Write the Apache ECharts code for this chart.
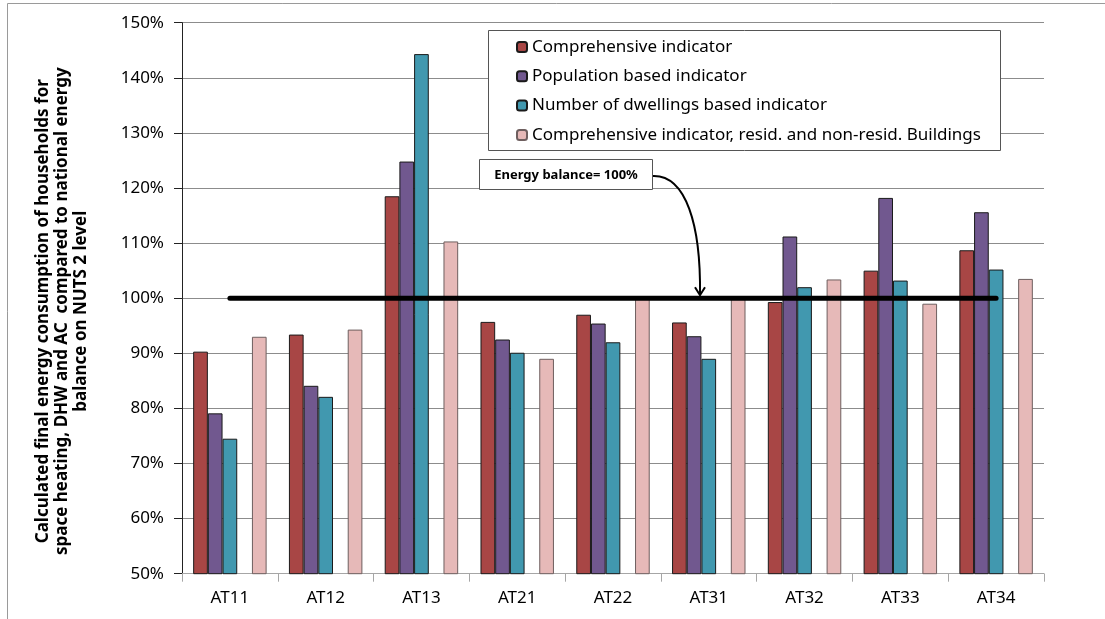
<!DOCTYPE html>
<html>
<head>
<meta charset="utf-8">
<script src="https://cdn.jsdelivr.net/npm/echarts@6/dist/echarts.min.js"></script>
<style>
html,body{margin:0;padding:0;background:#fff;}
#chart{width:1105px;height:619px;}
</style>
</head>
<body>
<div id="chart"></div>
<script>
const categories = ['AT11','AT12','AT13','AT21','AT22','AT31','AT32','AT33','AT34'];
const comprehensive = [90.3, 93.4, 118.5, 95.7, 97.0, 95.6, 99.3, 105.0, 108.7];
const population = [79.1, 84.1, 124.8, 92.5, 95.4, 93.1, 111.2, 118.2, 115.6];
const dwellings = [74.5, 82.1, 144.3, 90.1, 92.0, 89.0, 102.0, 103.2, 105.2];
const residNonResid = [93.0, 94.3, 110.3, 89.0, 100.2, 100.1, 103.4, 99.0, 103.5];
const energyBalance = [100, 100, 100, 100, 100, 100, 100, 100, 100];
const emptySlot = [null, null, null, null, null, null, null, null, null];
const seriesNames = ['Comprehensive indicator','Population based indicator','Number of dwellings based indicator','Comprehensive indicator, resid. and non-resid. Buildings'];
const yMin = 50, yMax = 150, yStep = 10;
const annotationText = 'Energy balance= 100%';
const yTitle = 'Calculated final energy consumption of households for\nspace heating, DHW and AC  compared to national energy\nbalance on NUTS 2 level';

const FONT = 'Noto Sans';
const chart = echarts.init(document.getElementById('chart'), null, {renderer:'canvas'});

function barSeries(name, data, color, border) {
  return {
    name: name, type: 'bar', data: data,
    barGap: '0%', barCategoryGap: '23.3%',
    itemStyle: {color: color, borderColor: border, borderWidth: 1},
    emphasis: {disabled: true}
  };
}

const option = {
  animation: false,
  backgroundColor: '#fff',
  textStyle: {fontFamily: FONT},
  grid: {left: 182, right: 61, top: 22.7, bottom: 45.3, containLabel: false},
  legend: {
    orient: 'vertical', left: 516, top: 37, padding: 0,
    itemWidth: 10, itemHeight: 10, itemGap: 9.3,
    data: seriesNames,
    textStyle: {fontFamily: FONT, fontSize: 17, color: '#000', lineHeight: 20},
    selectedMode: false, z: 6
  },
  xAxis: {
    type: 'category', data: categories,
    axisLine: {lineStyle: {color: '#a6a6a6', width: 1}},
    axisTick: {show: true, length: 8, lineStyle: {color: '#a6a6a6'}},
    axisLabel: {fontFamily: FONT, fontSize: 17, color: '#000', margin: 16},
    splitLine: {show: false}
  },
  yAxis: {
    type: 'value', min: yMin, max: yMax, interval: yStep,
    axisLine: {show: true, lineStyle: {color: '#222', width: 1}},
    axisTick: {show: true, length: 8, lineStyle: {color: '#222'}},
    axisLabel: {fontFamily: FONT, fontSize: 17, color: '#000', margin: 18, formatter: '{value}%'},
    splitLine: {show: true, lineStyle: {color: '#8c8c8c', width: 1}},
    name: yTitle, nameLocation: 'middle', nameGap: 91, nameRotate: 90,
    nameTextStyle: {fontFamily: FONT, fontSize: 17, fontWeight: 'bold', color: '#000', lineHeight: 19, align: 'center', padding: [0, 26, 0, 0]}
  },
  series: [
    barSeries(seriesNames[0], comprehensive, '#A84645', '#1a1a1a'),
    barSeries(seriesNames[1], population, '#71588F', '#1a1a1a'),
    barSeries(seriesNames[2], dwellings, '#4198AF', '#1a1a1a'),
    barSeries('gap', emptySlot, 'transparent', 'transparent'),
    barSeries(seriesNames[3], residNonResid, '#E6B9B8', '#6e5f5f'),
    {
      name: 'Energy balance', type: 'line', data: energyBalance,
      symbol: 'none', z: 5,
      lineStyle: {color: '#000', width: 5, cap: 'round'},
      emphasis: {disabled: true}
    }
  ]
};
chart.setOption(option);

const yTip = chart.convertToPixel({yAxisIndex: 0}, 100) - 3;
chart.setOption({
  graphic: [
    {type: 'rect', z: 0, silent: true, shape: {x: 7.5, y: 3.5, width: 1300, height: 800},
      style: {fill: 'none', stroke: '#9a9a9a', lineWidth: 1}},
    {type: 'rect', z: 3, silent: true, shape: {x: 488.5, y: 30.5, width: 512, height: 120},
      style: {fill: '#fff', stroke: '#555', lineWidth: 1}},
    {type: 'rect', z: 3, silent: true, shape: {x: 479.5, y: 159.5, width: 173, height: 30},
      style: {fill: '#fff', stroke: '#555', lineWidth: 1}},
    {type: 'text', z: 4, silent: true, x: 566, y: 175,
      style: {text: annotationText, fontFamily: FONT, fontSize: 13, fontWeight: 'bold', fill: '#000', align: 'center', verticalAlign: 'middle'}},
    {type: 'bezierCurve', z: 6, silent: true,
      shape: {x1: 653, y1: 176, cpx1: 686, cpy1: 175, cpx2: 701, cpy2: 225, x2: 700, y2: yTip},
      style: {stroke: '#000', lineWidth: 2, fill: 'none'}},
    {type: 'polyline', z: 6, silent: true,
      shape: {points: [[695, yTip - 8], [700, yTip], [705, yTip - 8]]},
      style: {stroke: '#000', lineWidth: 2, fill: 'none'}}
  ]
});
</script>
</body>
</html>
